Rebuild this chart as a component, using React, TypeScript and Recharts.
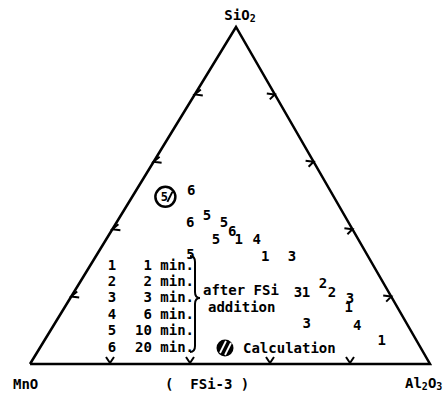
import React from 'react';
import { ScatterChart, Scatter, XAxis, YAxis, Customized } from 'recharts';

const FONT = "'DejaVu Sans Mono', 'Liberation Mono', monospace";

// slag compositions (wt%) after FSi addition; label = sampling time index
const timeIndex = [6, 6, 5, 5, 6, 1, 5, 4, 5, 1, 3, 3, 1, 2, 2, 3, 1, 3, 4, 1];
const sio2 = [51.6, 42.1, 44.2, 42.1, 39.5, 37.1, 37.1, 37.1, 32.6, 32.0, 32.0, 21.4, 21.4, 24.0, 21.4, 19.6, 16.9, 12.2, 11.6, 7.1];
const al2o3 = [13.7, 18.4, 21.5, 26.8, 30.2, 33.1, 27.4, 37.6, 23.3, 42.3, 49.0, 56.0, 58.0, 60.9, 64.5, 69.9, 71.0, 62.9, 75.8, 84.3];
const mno = [34.7, 39.5, 34.3, 31.1, 30.3, 29.8, 35.5, 25.3, 44.1, 25.7, 19.0, 22.6, 20.6, 15.1, 14.1, 10.5, 12.1, 24.9, 12.6, 8.6];

// calculated composition
const calcIndex = [5];
const calcSio2 = [49.6];
const calcAl2o3 = [8.3];
const calcMno = [42.1];

// legend
const legendIndex = [1, 2, 3, 4, 5, 6];
const legendTimes = ['1 min.', '2 min.', '3 min.', '6 min.', '10 min.', '20 min.'];

const edgeTicks = [20, 40, 60, 80];

// apex of the drawn triangle sits a little right of the base midpoint
const APEX_X = 0.515;

// ternary -> cartesian (MnO left, Al2O3 right, SiO2 top)
const toXY = (s: number, a: number, m: number) => {
  const t = s + a + m;
  return { x: ((a + s * APEX_X) / t) * 100, y: (s / t) * 100 };
};

const points = timeIndex.map((idx, i) => ({ ...toXY(sio2[i], al2o3[i], mno[i]), label: String(idx) }));
const calcPoints = calcIndex.map((idx, i) => ({ ...toXY(calcSio2[i], calcAl2o3[i], calcMno[i]), label: String(idx) }));

const frame = [toXY(0, 0, 100), toXY(0, 100, 0), toXY(100, 0, 0), toXY(0, 0, 100)];

const bottomTicks = edgeTicks.map((v) => ({ ...toXY(0, v, 100 - v), side: 'bottom' }));
const leftTicks = edgeTicks.map((v) => ({ ...toXY(v, 0, 100 - v), side: 'left' }));
const rightTicks = edgeTicks.map((v) => ({ ...toXY(v, 100 - v, 0), side: 'right' }));
const allTicks = [...bottomTicks, ...leftTicks, ...rightTicks];

const TickMark = (props: any) => {
  const { cx, cy, payload } = props;
  let d = '';
  if (payload.side === 'bottom') d = `M${cx - 4},${cy - 7} L${cx},${cy - 1} L${cx + 4},${cy - 7}`;
  else if (payload.side === 'left') d = `M${cx + 6},${cy - 5} L${cx},${cy} L${cx + 8},${cy + 1}`;
  else d = `M${cx - 8},${cy - 1} L${cx},${cy} L${cx - 5},${cy + 5}`;
  return <path d={d} stroke="#000" strokeWidth={2} fill="none" />;
};

const DigitLabel = (props: any) => {
  const { cx, cy, payload } = props;
  return (
    <text x={cx} y={cy} textAnchor="middle" dominantBaseline="central" fontFamily={FONT} fontSize={14} fontWeight="bold" fill="#000">
      {payload.label}
    </text>
  );
};

const CalcMark = (props: any) => {
  const { cx, cy, payload } = props;
  return (
    <g>
      <circle cx={cx} cy={cy} r={10} fill="#fff" stroke="#000" strokeWidth={2.5} />
      <text x={cx - 1} y={cy} textAnchor="middle" dominantBaseline="central" fontFamily={FONT} fontSize={12} fontWeight="bold">
        {payload.label}
      </text>
      <line x1={cx + 2} y1={cy + 5} x2={cx + 7} y2={cy - 5} stroke="#000" strokeWidth={2} />
    </g>
  );
};

const Nothing = () => <g />;

const Overlay = () => {
  const txt = { fontFamily: FONT, fontSize: 14, fontWeight: 'bold' as const, fill: '#000', dominantBaseline: 'central' as const };
  const rowY = [265, 281, 297, 314, 330, 347];
  return (
    <g>
      <text x={240} y={15} textAnchor="middle" {...txt}>
        SiO<tspan fontSize={10} dy={3}>2</tspan>
      </text>
      <text x={13} y={384} {...txt}>MnO</text>
      <text x={165} y={384} {...txt} xmlSpace="preserve">(  FSi-3 )</text>
      <text x={405} y={383} {...txt}>
        Al<tspan fontSize={10} dy={3}>2</tspan><tspan dy={-3}>O</tspan><tspan fontSize={10} dy={3}>3</tspan>
      </text>

      {legendIndex.map((n, i) => (
        <g key={n}>
          <text x={112} y={rowY[i]} textAnchor="middle" {...txt}>{n}</text>
          <text x={194} y={rowY[i]} textAnchor="end" {...txt}>{legendTimes[i]}</text>
        </g>
      ))}
      <path
        d="M190,256 Q195,256 195,262 L195,292 Q195,298 200,298 Q195,298 195,304 L195,346 Q195,352 190,352"
        stroke="#000"
        strokeWidth={2}
        fill="none"
      />
      <text x={203} y={290} {...txt}>after FSi</text>
      <text x={208} y={307} {...txt}>addition</text>

      <circle cx={225} cy={348} r={8.5} fill="#000" />
      <line x1={220} y1={353} x2={226} y2={341} stroke="#fff" strokeWidth={1.8} />
      <line x1={225} y1={355} x2={231} y2={343} stroke="#fff" strokeWidth={1.8} />
      <text x={243} y={348} {...txt}>Calculation</text>
    </g>
  );
};

export default function App() {
  return (
    <div style={{ position: 'absolute', left: 0, top: 0, width: 448, height: 396, background: '#fff' }}>
      <ScatterChart width={448} height={396} margin={{ top: 27, right: 18, bottom: 32, left: 30 }}>
        <XAxis type="number" dataKey="x" domain={[0, 100]} hide />
        <YAxis type="number" dataKey="y" domain={[0, 100]} hide />
        <Scatter
          data={frame}
          line={{ stroke: '#000', strokeWidth: 2.5, strokeLinejoin: 'miter' }}
          lineType="joint"
          shape={<Nothing />}
          isAnimationActive={false}
        />
        <Scatter data={allTicks} shape={<TickMark />} isAnimationActive={false} />
        <Scatter data={points} shape={<DigitLabel />} isAnimationActive={false} />
        <Scatter data={calcPoints} shape={<CalcMark />} isAnimationActive={false} />
        <Customized component={<Overlay />} />
      </ScatterChart>
    </div>
  );
}
